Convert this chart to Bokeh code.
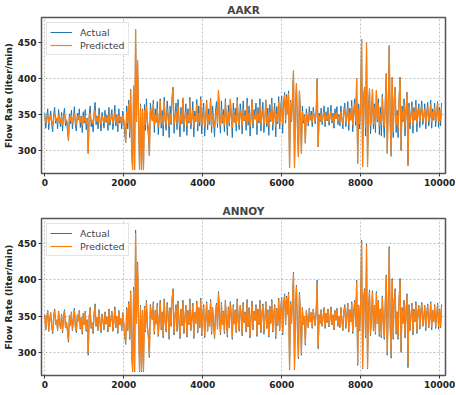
from bokeh.plotting import figure
from bokeh.layouts import column
from bokeh.models import Range1d, FixedTicker, Legend, LegendItem
from bokeh.embed import file_html
from bokeh.resources import INLINE

# ---- data (one value every 25 samples) ----
sample_step = 25

actual = [
    352, 331, 347, 358, 329, 344, 355, 336, 326, 350, 360, 338, 345, 330, 357, 341, 333, 353, 327, 349,
    359, 334, 342, 328, 314, 351, 337, 356, 330, 346, 361, 335, 327, 352, 343, 358, 332, 348, 325, 354,
    338, 357, 329, 345, 296, 350, 362, 333, 341, 326, 355, 367, 336, 348, 330, 359, 340, 327, 353, 344,
    331, 356, 339, 349, 328, 360, 335, 346, 357, 329, 342, 363, 334, 350, 326, 358, 338, 347, 330, 355,
    341, 322, 311, 362, 330, 370, 318, 385, 300, 273, 390, 273, 469, 340, 425, 350, 273, 365, 273, 358,
    273, 364, 328, 372, 335, 320, 293, 366, 352, 345, 370, 325, 358, 339, 368, 322, 347, 372, 331, 356,
    320, 374, 341, 328, 369, 351, 318, 362, 336, 375, 388, 324, 350, 366, 329, 371, 343, 319, 360, 337,
    372, 326, 349, 365, 321, 358, 338, 374, 330, 346, 368, 319, 355, 340, 371, 327, 362, 334, 375, 323,
    351, 366, 320, 344, 370, 329, 358, 336, 373, 325, 362, 341, 319, 355, 368, 332, 384, 348, 324, 369,
    338, 357, 326, 372, 345, 321, 363, 334, 370, 350, 318, 366, 339, 359, 327, 374, 343, 329, 365, 352,
    323, 369, 341, 356, 328, 373, 335, 362, 320, 348, 371, 331, 357, 344, 366, 322, 360, 338, 372, 327,
    354, 367, 325, 346, 370, 333, 359, 321, 364, 340, 373, 328, 352, 366, 319, 361, 337, 375, 330, 358,
    376, 324, 365, 381, 338, 378, 352, 383, 276, 370, 340, 375, 411, 276, 360, 393, 330, 291, 383, 355,
    296, 362, 338, 350, 310, 358, 345, 334, 361, 342, 355, 333, 360, 347, 337, 358, 400, 305, 352, 340,
    359, 336, 349, 362, 333, 354, 341, 360, 335, 347, 363, 338, 352, 331, 358, 344, 361, 336, 350, 334,
    362, 345, 330, 357, 366, 333, 350, 368, 328, 359, 342, 370, 326, 355, 372, 335, 400, 282, 365, 330,
    368, 455, 277, 375, 388, 320, 450, 277, 362, 386, 323, 350, 385, 330, 365, 325, 384, 340, 372, 322,
    360, 320, 378, 342, 318, 370, 407, 296, 365, 446, 335, 292, 402, 318, 372, 388, 325, 356, 318, 375,
    402, 300, 362, 340, 372, 320, 358, 381, 279, 366, 330, 351, 368, 324, 360, 342, 370, 326, 355, 365,
    332, 357, 369, 336, 348, 365, 330, 353, 367, 334, 345, 370, 331, 358, 342, 366, 333, 350, 368, 332,
    360, 334, 366,
]

predicted_aakr = [
    346, 339, 344, 350, 337, 343, 349, 340, 336, 347, 351, 341, 345, 338, 350, 342, 339, 348, 336, 345,
    350, 340, 343, 337, 314, 347, 341, 349, 338, 345, 352, 340, 336, 348, 343, 350, 339, 346, 335, 348,
    341, 349, 337, 344, 296, 347, 352, 339, 343, 336, 349, 356, 340, 346, 338, 351, 342, 336, 348, 344,
    338, 349, 341, 346, 336, 351, 340, 345, 350, 337, 343, 353, 339, 347, 335, 350, 341, 346, 338, 349,
    343, 336, 311, 355, 338, 365, 325, 383, 300, 273, 390, 273, 469, 340, 425, 350, 273, 362, 273, 356,
    273, 356, 336, 362, 340, 333, 293, 357, 345, 341, 365, 335, 350, 340, 358, 333, 344, 370, 337, 349,
    334, 368, 342, 336, 357, 346, 333, 352, 339, 372, 388, 335, 345, 355, 337, 362, 343, 334, 351, 340,
    374, 335, 345, 354, 333, 350, 340, 370, 336, 344, 357, 332, 348, 341, 365, 336, 352, 339, 372, 334,
    346, 355, 333, 343, 368, 336, 350, 340, 372, 334, 352, 342, 333, 348, 358, 337, 384, 345, 334, 356,
    340, 350, 335, 368, 344, 333, 353, 338, 372, 346, 332, 357, 340, 350, 336, 370, 343, 335, 355, 347,
    334, 358, 342, 349, 336, 366, 340, 352, 333, 345, 369, 337, 350, 343, 356, 334, 351, 341, 364, 336,
    348, 356, 335, 344, 371, 338, 350, 333, 354, 342, 366, 336, 347, 357, 333, 352, 340, 368, 337, 350,
    370, 336, 360, 378, 342, 375, 350, 380, 276, 368, 341, 372, 411, 276, 358, 393, 332, 291, 383, 352,
    296, 355, 341, 348, 310, 352, 345, 338, 353, 343, 350, 339, 354, 346, 340, 352, 400, 305, 348, 342,
    352, 340, 347, 354, 338, 349, 343, 353, 339, 346, 355, 341, 348, 337, 352, 344, 354, 340, 347, 339,
    354, 344, 337, 352, 358, 339, 347, 360, 336, 353, 343, 362, 335, 350, 365, 340, 400, 282, 358, 337,
    362, 455, 277, 370, 388, 332, 450, 277, 355, 386, 334, 347, 385, 337, 360, 335, 384, 342, 366, 333,
    352, 335, 375, 343, 333, 365, 407, 296, 358, 446, 340, 292, 402, 325, 366, 388, 335, 350, 330, 368,
    402, 300, 356, 342, 365, 333, 352, 381, 279, 360, 338, 348, 362, 335, 355, 343, 364, 337, 350, 360,
    340, 352, 362, 341, 347, 358, 338, 350, 361, 340, 346, 364, 339, 354, 344, 360, 341, 348, 366, 339,
    356, 341, 362,
]

predicted_annoy = [
    351, 332, 347, 357, 330, 344, 355, 336, 328, 350, 358, 338, 345, 331, 356, 341, 333, 352, 329, 349,
    357, 334, 342, 330, 316, 351, 337, 355, 331, 346, 359, 335, 329, 352, 343, 357, 333, 348, 327, 353,
    338, 356, 331, 345, 298, 350, 360, 334, 341, 328, 354, 365, 336, 348, 331, 358, 340, 329, 352, 344,
    332, 355, 339, 349, 330, 358, 335, 346, 356, 330, 342, 361, 334, 350, 328, 357, 338, 347, 331, 354,
    341, 324, 313, 360, 331, 368, 320, 383, 302, 274, 388, 274, 465, 340, 423, 350, 274, 363, 274, 357,
    274, 362, 330, 370, 335, 322, 295, 364, 352, 345, 368, 327, 357, 339, 366, 324, 347, 370, 332, 355,
    322, 372, 341, 330, 367, 351, 320, 361, 336, 373, 386, 326, 350, 364, 330, 369, 343, 321, 359, 337,
    370, 328, 349, 364, 323, 357, 338, 372, 331, 346, 366, 321, 355, 340, 369, 329, 361, 334, 373, 325,
    351, 364, 322, 344, 368, 330, 357, 336, 371, 327, 361, 341, 321, 355, 366, 332, 382, 348, 326, 367,
    338, 356, 328, 370, 345, 323, 362, 334, 368, 350, 320, 364, 339, 358, 329, 372, 343, 330, 364, 352,
    325, 367, 341, 355, 330, 371, 335, 361, 322, 348, 369, 332, 356, 344, 364, 324, 359, 338, 370, 329,
    354, 365, 327, 346, 368, 333, 358, 323, 363, 340, 371, 330, 352, 364, 321, 360, 337, 373, 331, 357,
    374, 326, 364, 379, 338, 376, 352, 381, 277, 368, 340, 373, 409, 277, 359, 391, 331, 293, 381, 355,
    298, 361, 338, 350, 312, 357, 345, 334, 360, 342, 355, 334, 359, 347, 337, 357, 398, 307, 352, 340,
    358, 336, 349, 361, 334, 354, 341, 359, 335, 347, 362, 338, 352, 332, 357, 344, 360, 336, 350, 335,
    361, 345, 331, 357, 364, 334, 350, 366, 330, 358, 342, 368, 328, 355, 370, 335, 398, 284, 364, 331,
    367, 453, 278, 373, 386, 322, 448, 278, 361, 384, 325, 350, 383, 331, 364, 327, 382, 340, 370, 324,
    359, 322, 376, 342, 320, 368, 405, 298, 364, 444, 335, 294, 400, 320, 370, 386, 327, 356, 320, 373,
    400, 302, 361, 340, 370, 322, 357, 379, 282, 365, 331, 351, 366, 326, 359, 342, 368, 328, 355, 364,
    334, 356, 367, 336, 348, 364, 333, 353, 365, 335, 345, 368, 334, 357, 342, 364, 335, 350, 366, 335,
    359, 335, 364,
]

x_ticks = [0, 2000, 4000, 6000, 8000, 10000]
y_ticks = [300, 350, 400, 450]
titles = ["AAKR", "ANNOY"]
series_labels = ["Actual", "Predicted"]
y_label = "Flow Rate (liter/min)"

BLUE = "#1f77b4"
ORANGE = "#ff7f0e"
FONT = "DejaVu Sans"

samples = [i * sample_step for i in range(len(actual))]


def make_panel(title, predicted, frame_h, top, bottom):
    p = figure(frame_width=404, frame_height=frame_h, output_backend="svg",
               toolbar_location=None,
               x_range=Range1d(-83, 10150), y_range=Range1d(268, 485),
               min_border_left=39, min_border_right=10,
               min_border_top=top, min_border_bottom=bottom)
    p.title.text = title
    p.title.align = "center"
    p.title.text_font = FONT
    p.title.text_font_size = "10.5px"
    p.title.text_font_style = "bold"
    p.title.standoff = 3
    p.title.offset = 0

    r1 = p.line(samples, actual, line_color=BLUE, line_width=1)
    r2 = p.line(samples, predicted, line_color=ORANGE, line_width=1.2)

    legend = Legend(items=[LegendItem(label=series_labels[0], renderers=[r1]),
                           LegendItem(label=series_labels[1], renderers=[r2])],
                    location="top_left")
    legend.label_text_font = FONT
    legend.label_text_font_size = "9.5px"
    legend.glyph_width = 22
    legend.glyph_height = 12
    legend.label_height = 12
    legend.label_standoff = 8
    legend.spacing = 1
    legend.padding = 3
    legend.margin = 5
    legend.border_line_color = "#cccccc"
    legend.background_fill_alpha = 0.85
    p.add_layout(legend)

    for ax in (p.xaxis[0], p.yaxis[0]):
        ax.major_label_text_font = FONT
        ax.major_label_text_font_size = "9px"
        ax.major_label_text_font_style = "bold"
        ax.major_label_text_color = "#222222"
        ax.minor_tick_line_color = None
        ax.major_tick_in = 0
        ax.major_tick_out = 3
        ax.major_tick_line_color = "#333333"
        ax.axis_line_color = None
        ax.major_label_standoff = 2

    p.xaxis.axis_label = None
    p.xaxis.ticker = FixedTicker(ticks=x_ticks)
    p.yaxis.ticker = FixedTicker(ticks=y_ticks)
    p.yaxis.axis_label = y_label
    p.yaxis.axis_label_text_font = FONT
    p.yaxis.axis_label_text_font_size = "9px"
    p.yaxis.axis_label_text_font_style = "bold"
    p.yaxis.axis_label_text_color = "#222222"
    p.yaxis.axis_label_standoff = 1

    p.outline_line_color = "#555555"
    p.outline_line_width = 1.5

    for g in (p.xgrid[0], p.ygrid[0]):
        g.grid_line_color = "#b0b0b0"
        g.grid_line_dash = "2 2"
        g.grid_line_width = 0.8
    return p


p1 = make_panel(titles[0], predicted_aakr, 156, 16, 26)
p2 = make_panel(titles[1], predicted_annoy, 157, 19, 18)
layout = column(p1, p2)

open("out.html", "w").write(file_html(layout, INLINE))
